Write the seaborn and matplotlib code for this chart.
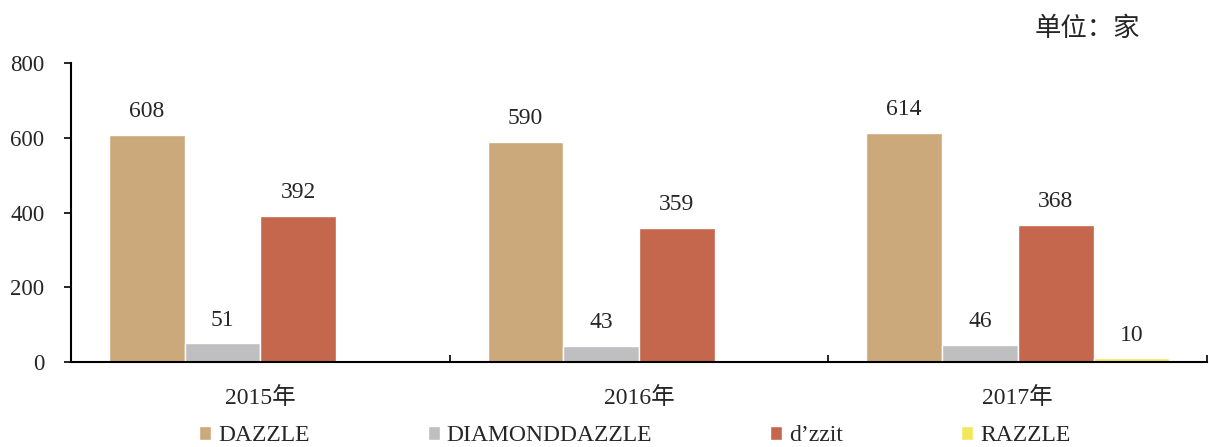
import matplotlib
matplotlib.use('Agg')
import matplotlib.pyplot as plt
import seaborn as sns
import pandas as pd
import numpy as np

years = ['2015年', '2016年', '2017年']
brands = ['DAZZLE', 'DIAMONDDAZZLE', 'd’zzit', 'RAZZLE']
dazzle = [608, 590, 614]
diamond = [51, 43, 46]
dzzit = [392, 359, 368]
razzle = [0, 0, 10]
colors = ['#CBA97B', '#BFBFC1', '#C5674D', '#F2E85C']

sns.set_theme(style='white')
fonts = ['Liberation Serif', 'Noto Sans CJK SC']
plt.rcParams['font.family'] = fonts

rows = []
for name, vals in zip(brands, [dazzle, diamond, dzzit, razzle]):
    for y, v in zip(years, vals):
        rows.append({'year': y, 'brand': name, 'value': v})
df = pd.DataFrame(rows)

fig = plt.figure(figsize=(12.09, 4.47), dpi=100)
ax = fig.add_axes([0.0587, 0.19, 0.9398, 0.669])

sns.barplot(data=df, x='year', y='value', hue='brand', hue_order=brands,
            palette=colors, width=0.8, edgecolor='white', linewidth=1,
            saturation=1, ax=ax)

for cont in ax.containers:
    labels = [f'{int(b.get_height())}' if b.get_height() > 0 else '' for b in cont]
    ax.bar_label(cont, labels=labels, padding=9, fontsize=17)

ax.set_ylim(0, 800)
ax.set_yticks([0, 200, 400, 600, 800])
ax.set_xlim(-0.5, 2.5)
ax.set_xlabel('')
ax.set_ylabel('')
ax.tick_params(axis='y', direction='out', length=5, width=1.2, labelsize=16.5, color='black', left=True, pad=14)
ax.tick_params(axis='x', which='major', length=0, labelsize=17, pad=18)
ax.set_xticks([0.5, 1.5, 2.5], minor=True)
ax.tick_params(axis='x', which='minor', direction='in', length=5, width=1.2, color='black', bottom=True)

for s in ['top', 'right']:
    ax.spines[s].set_visible(False)
for s in ['left', 'bottom']:
    ax.spines[s].set_color('black')
    ax.spines[s].set_linewidth(1.5)

ax.legend(loc='center', bbox_to_anchor=(0.525, 0.025), bbox_transform=fig.transFigure,
          ncol=4, frameon=False, borderpad=0,
          prop={'family': fonts, 'size': 17}, handlelength=0.5, handleheight=0.5,
          handletextpad=0.3, columnspacing=5.0)

fig.text(0.943, 0.935, '单位：家', fontsize=19, ha='right', va='center')

fig.savefig('out.png', dpi=100)
